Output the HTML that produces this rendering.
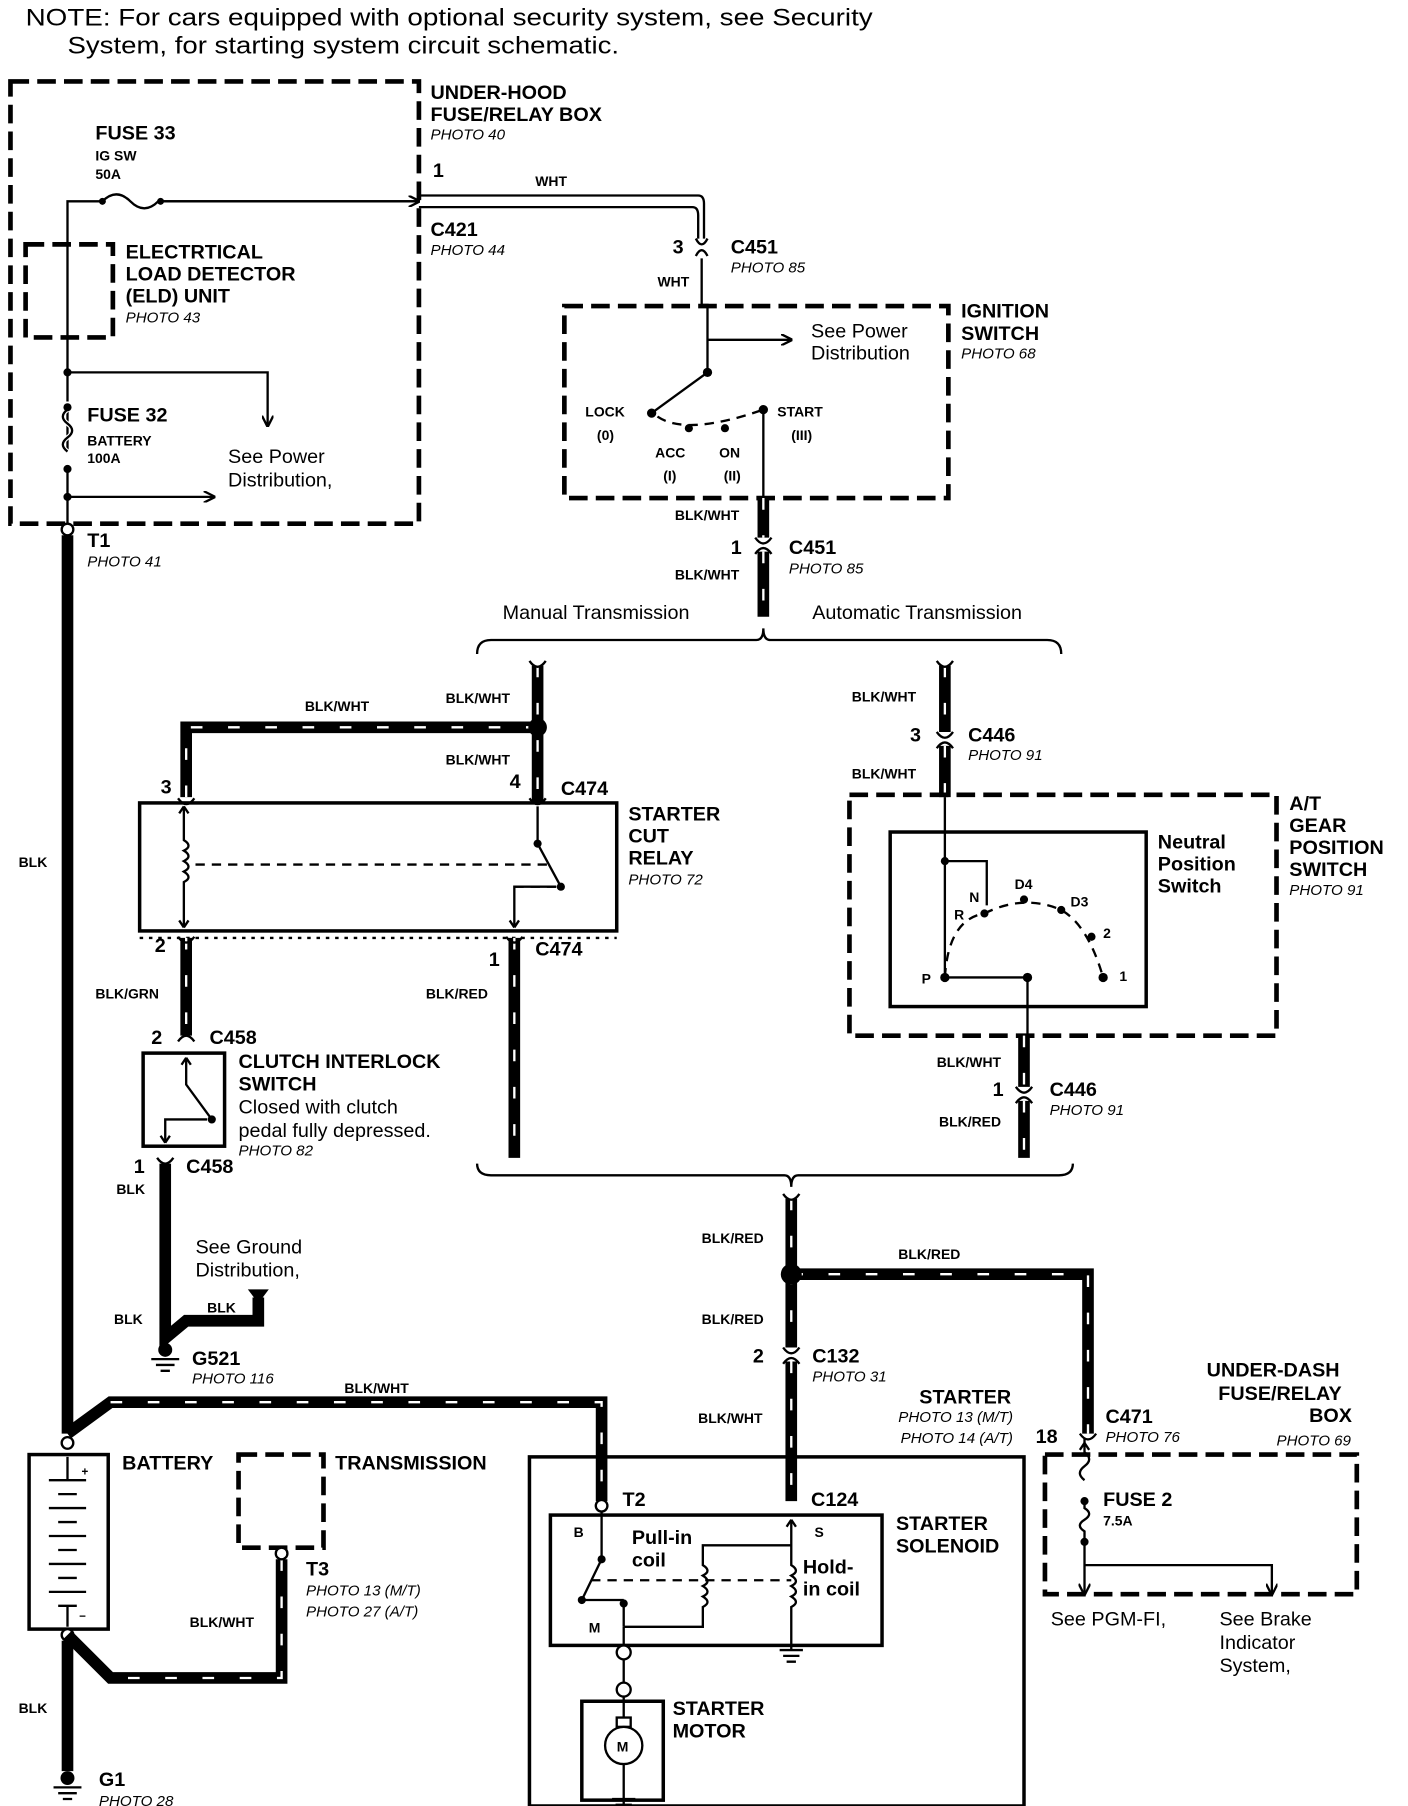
<!DOCTYPE html>
<html><head><meta charset="utf-8"><style>
html,body{margin:0;padding:0;background:#fff}
svg{display:block}
text{font-family:"Liberation Sans",Arial,sans-serif;fill:#000}
.b{font-weight:bold;font-size:17px}
.s{font-weight:bold;font-size:12px}
.i{font-style:italic;font-size:13px}
.n{font-size:17px}
.tw{stroke:#000;stroke-width:10;fill:none}
.td{stroke:#fff;stroke-width:2;fill:none;stroke-dasharray:10 22}
.th{stroke:#000;stroke-width:2;fill:none}
.dsh{stroke:#000;stroke-width:4;fill:none;stroke-dasharray:16 7}
.dl{stroke:#000;stroke-width:2;fill:none;stroke-dasharray:8 6}
</style></head><body>
<svg width="1408" height="1806" viewBox="0 0 1210 1552" xmlns="http://www.w3.org/2000/svg">
<defs><marker id="ar" markerWidth="10" markerHeight="10" refX="9" refY="5" orient="auto" markerUnits="userSpaceOnUse"><path d="M0,0 L10,5 L0,10" fill="none" stroke="#000" stroke-width="2"/></marker></defs>
<text x="22" y="22" class="n" style="font-size:21px" textLength="728" lengthAdjust="spacingAndGlyphs">NOTE: For cars equipped with optional security system, see Security</text>
<text x="58" y="46" class="n" style="font-size:21px" textLength="474" lengthAdjust="spacingAndGlyphs">System, for starting system circuit schematic.</text>

<!-- under-hood box -->
<rect x="9" y="70" width="351" height="380" class="dsh"/>
<text x="370" y="85" class="b">UNDER-HOOD</text><text x="370" y="104" class="b">FUSE/RELAY BOX</text><text x="370" y="120" class="i">PHOTO  40</text>
<text x="82" y="120" class="b">FUSE 33</text><text x="82" y="138" class="s">IG SW</text><text x="82" y="154" class="s">50A</text>
<path d="M58,455 V173 H88 M88,173 q12,-12 24,0 q12,12 24,0 H360" class="th" marker-end="url(#ar)"/>
<path d="M136,173 H358" class="th"/>
<circle cx="88" cy="173" r="3"/><circle cx="138" cy="173" r="3"/>
<path d="M360,168 H600 Q605,168 605,175 V205 M360,178 H595 Q600,178 600,185 V205" class="th"/>
<text x="372" y="152" class="b">1</text><text x="460" y="160" class="s">WHT</text>
<text x="370" y="203" class="b">C421</text><text x="370" y="219" class="i">PHOTO 44</text>
<path d="M598,205 q5,10 10,0 M598,220 q5,-10 10,0" class="th"/>
<text x="578" y="218" class="b">3</text><text x="628" y="218" class="b">C451</text><text x="628" y="234" class="i">PHOTO 85</text>
<text x="565" y="246" class="s">WHT</text>
<path d="M603,222 V262 H608 V320" class="th"/>
<path d="M608,292 H680" class="th" marker-end="url(#ar)"/>
<text x="697" y="290" class="n">See Power</text><text x="697" y="309" class="n">Distribution</text>
<rect x="485" y="263" width="330" height="165" class="dsh"/>
<text x="826" y="273" class="b">IGNITION</text><text x="826" y="292" class="b">SWITCH</text><text x="826" y="308" class="i">PHOTO 68</text>
<path d="M608,320 L560,355" class="th"/><circle cx="608" cy="320" r="4"/><circle cx="560" cy="355" r="4"/>
<circle cx="592" cy="368" r="3.5"/><circle cx="623" cy="368" r="3.5"/><circle cx="656" cy="352" r="4"/>
<path d="M565,358 Q590,375 656,352" class="dl"/>
<text x="503" y="358" class="s">LOCK</text><text x="513" y="378" class="s">(0)</text>
<text x="563" y="393" class="s">ACC</text><text x="570" y="413" class="s">(I)</text>
<text x="618" y="393" class="s">ON</text><text x="622" y="413" class="s">(II)</text>
<text x="668" y="358" class="s">START</text><text x="680" y="378" class="s">(III)</text>
<path d="M656,352 V428" class="th"/>
<path d="M656,428 V462 M656,474 V530" class="tw"/><path d="M656,428 V462 M656,474 V530" class="td"/>
<path d="M649,462 q7,10 14,0 M649,476 q7,-10 14,0" class="th"/>
<text x="580" y="447" class="s">BLK/WHT</text>
<text x="628" y="476" class="b">1</text><text x="678" y="476" class="b">C451</text><text x="678" y="493" class="i">PHOTO 85</text>
<text x="580" y="498" class="s">BLK/WHT</text>
<text x="432" y="532" class="n">Manual Transmission</text><text x="698" y="532" class="n">Automatic Transmission</text>
<path d="M410,562 Q410,550 422,550 H650 Q656,550 656,540 Q656,550 662,550 H900 Q912,550 912,562" class="th"/>

<!-- ELD -->
<rect x="22" y="210" width="75" height="80" class="dsh"/>
<text x="108" y="222" class="b">ELECTRTICAL</text><text x="108" y="241" class="b">LOAD DETECTOR</text><text x="108" y="260" class="b">(ELD) UNIT</text><text x="108" y="277" class="i">PHOTO 43</text>
<circle cx="58" cy="320" r="3.5"/>
<path d="M58,320 H230 V366" class="th" marker-end="url(#ar)"/>
<path d="M58,345 V352 q-8,6 0,12 q8,6 0,12 q-8,6 0,12 V400" stroke="#fff" stroke-width="4" fill="none"/>
<path d="M58,352 q-8,6 0,12 q8,6 0,12 q-8,6 0,12" class="th"/>
<circle cx="58" cy="350" r="3.5"/><circle cx="58" cy="403" r="3.5"/>
<text x="75" y="362" class="b">FUSE 32</text><text x="75" y="383" class="s">BATTERY</text><text x="75" y="398" class="s">100A</text>
<path d="M58,427 H184" class="th" marker-end="url(#ar)"/><circle cx="58" cy="427" r="3.5"/>
<text x="196" y="398" class="n">See Power</text><text x="196" y="418" class="n">Distribution,</text>
<path d="M58,460 V1232" class="tw"/>
<circle cx="58" cy="455" r="5" fill="#fff" stroke="#000" stroke-width="2"/>
<text x="75" y="470" class="b">T1</text><text x="75" y="487" class="i">PHOTO 41</text>
<text x="16" y="745" class="s">BLK</text>

<!-- manual -->
<path d="M462,572 V690" class="tw"/><path d="M462,572 V690" class="td"/>
<path d="M455,568 q7,10 14,0" class="th"/>
<path d="M462,625 H160 V685" class="tw"/><path d="M462,625 H160 V685" class="td"/>
<circle cx="462" cy="625" r="8"/>
<text x="383" y="604" class="s">BLK/WHT</text><text x="262" y="611" class="s">BLK/WHT</text><text x="383" y="657" class="s">BLK/WHT</text>
<text x="138" y="682" class="b">3</text><text x="438" y="677" class="b">4</text><text x="482" y="683" class="b">C474</text>
<rect x="120" y="690" width="410" height="110" stroke="#000" stroke-width="3" fill="#fff"/>
<path d="M153,686 q7,10 14,0 M455,686 q7,10 14,0" class="th"/>
<text x="540" y="705" class="b">STARTER</text><text x="540" y="724" class="b">CUT</text><text x="540" y="743" class="b">RELAY</text><text x="540" y="760" class="i">PHOTO 72</text>
<path d="M158,693 V722 q8,5 0,9 q8,5 0,9 q8,5 0,9 q8,5 0,9 V797" class="th"/>
<path d="M158,693 l-4,6 M158,693 l4,6 M158,797 l-4,-6 M158,797 l4,-6" class="th"/>
<path d="M168,743 H470" class="dl"/>
<path d="M462,693 V725 L482,762" class="th"/><circle cx="462" cy="725" r="3.5"/><circle cx="482" cy="762" r="3.5"/>
<path d="M442,797 V762 H478" class="th"/><path d="M442,762 H478" class="dl"/>
<path d="M442,797 l-4,-6 M442,797 l4,-6" class="th"/>
<path d="M120,806 H530" class="dl" style="stroke-dasharray:3 5"/>
<path d="M160,806 V890 M442,806 V995" class="tw"/><path d="M160,806 V890 M442,806 V995" class="td"/>
<path d="M153,805 q7,10 14,0 M435,805 q7,10 14,0" class="th"/>
<text x="133" y="818" class="b">2</text><text x="420" y="830" class="b">1</text><text x="460" y="821" class="b">C474</text>
<text x="82" y="858" class="s">BLK/GRN</text><text x="366" y="858" class="s">BLK/RED</text>
<path d="M153,895 q7,-10 14,0" class="th"/>
<text x="130" y="897" class="b">2</text><text x="180" y="897" class="b">C458</text>
<rect x="123" y="905" width="70" height="80" stroke="#000" stroke-width="3" fill="#fff"/>
<path d="M160,909 V932 L182,962" class="th"/><circle cx="182" cy="962" r="3.5"/>
<path d="M160,909 l-4,6 M160,909 l4,6" class="th"/>
<path d="M142,982 V962 H178" class="th"/>
<path d="M142,982 l-4,-6 M142,982 l4,-6" class="th"/>
<text x="205" y="918" class="b">CLUTCH INTERLOCK</text><text x="205" y="937" class="b">SWITCH</text>
<text x="205" y="957" class="n">Closed with clutch</text><text x="205" y="977" class="n">pedal fully depressed.</text><text x="205" y="993" class="i">PHOTO 82</text>
<path d="M135,995 q7,10 14,0" class="th"/>
<text x="115" y="1008" class="b">1</text><text x="160" y="1008" class="b">C458</text><text x="100" y="1026" class="s">BLK</text>
<path d="M142,1000 V1150 L160,1135 H222 V1115" class="tw"/>
<path d="M213,1108 H231 L222,1120 Z"/>
<text x="168" y="1077" class="n">See Ground</text><text x="168" y="1097" class="n">Distribution,</text>
<text x="178" y="1128" class="s">BLK</text><text x="98" y="1138" class="s">BLK</text>
<circle cx="142" cy="1160" r="6"/><path d="M130,1168 H154 M134,1173 H150 M138,1178 H146" class="th"/>
<text x="165" y="1173" class="b">G521</text><text x="165" y="1189" class="i">PHOTO 116</text>

<!-- automatic -->
<path d="M812,572 V629 M812,641 V685" class="tw"/><path d="M812,572 V629 M812,641 V685" class="td"/>
<path d="M805,568 q7,10 14,0 M805,629 q7,10 14,0 M805,643 q7,-10 14,0" class="th"/>
<text x="732" y="603" class="s">BLK/WHT</text><text x="782" y="637" class="b">3</text><text x="832" y="637" class="b">C446</text><text x="832" y="653" class="i">PHOTO  91</text><text x="732" y="669" class="s">BLK/WHT</text>
<rect x="730" y="683" width="367" height="207" class="dsh"/>
<text x="1108" y="696" class="b">A/T</text><text x="1108" y="715" class="b">GEAR</text><text x="1108" y="734" class="b">POSITION</text><text x="1108" y="753" class="b">SWITCH</text><text x="1108" y="769" class="i">PHOTO 91</text>
<rect x="765" y="715" width="220" height="150" stroke="#000" stroke-width="3" fill="#fff"/>
<text x="995" y="729" class="b">Neutral</text><text x="995" y="748" class="b">Position</text><text x="995" y="767" class="b">Switch</text>
<path d="M812,685 V840 M812,740 H848 V778 M812,840 H883 V890" class="th"/>
<circle cx="812" cy="740" r="3.5"/><circle cx="812" cy="840" r="4"/><circle cx="883" cy="840" r="4"/>
<path d="M812,840 Q815,790 846,785 Q880,768 912,782 Q935,795 948,840" class="dl"/>
<circle cx="846" cy="785" r="3.5"/><circle cx="880" cy="773" r="3.5"/><circle cx="912" cy="782" r="3.5"/><circle cx="938" cy="805" r="3.5"/><circle cx="948" cy="840" r="4"/>
<text x="833" y="775" class="s">N</text><text x="820" y="790" class="s">R</text><text x="872" y="764" class="s">D4</text><text x="920" y="779" class="s">D3</text><text x="948" y="806" class="s">2</text><text x="962" y="843" class="s">1</text><text x="792" y="845" class="s">P</text>
<path d="M880,890 V934 M880,946 V995" class="tw"/><path d="M880,890 V934 M880,946 V995" class="td"/>
<path d="M873,934 q7,10 14,0 M873,948 q7,-10 14,0" class="th"/>
<text x="805" y="917" class="s">BLK/WHT</text><text x="853" y="942" class="b">1</text><text x="902" y="942" class="b">C446</text><text x="902" y="958" class="i">PHOTO 91</text><text x="807" y="968" class="s">BLK/RED</text>
<path d="M410,1000 Q410,1010 422,1010 H674 Q680,1010 680,1020 Q680,1010 686,1010 H910 Q922,1010 922,1000" class="th"/>

<!-- starter feed -->
<path d="M680,1030 V1158 M680,1170 V1290" class="tw"/><path d="M680,1030 V1158 M680,1170 V1290" class="td"/>
<path d="M673,1026 q7,10 14,0 M673,1158 q7,10 14,0 M673,1172 q7,-10 14,0" class="th"/>
<path d="M680,1095 H935 V1232" class="tw"/><path d="M680,1095 H935 V1232" class="td"/>
<circle cx="680" cy="1095" r="9"/>
<text x="603" y="1068" class="s">BLK/RED</text><text x="772" y="1082" class="s">BLK/RED</text><text x="603" y="1138" class="s">BLK/RED</text>
<text x="647" y="1171" class="b">2</text><text x="698" y="1171" class="b">C132</text><text x="698" y="1187" class="i">PHOTO 31</text>
<text x="600" y="1223" class="s">BLK/WHT</text>
<text x="790" y="1206" class="b">STARTER</text><text x="772" y="1222" class="i">PHOTO 13 (M/T)</text><text x="774" y="1240" class="i">PHOTO 14 (A/T)</text>

<!-- battery feed -->
<path d="M58,1232 L95,1205 H517 V1290" class="tw"/><path d="M95,1205 H517 V1290" class="td"/>
<text x="296" y="1197" class="s">BLK/WHT</text>
<rect x="25" y="1250" width="68" height="150" stroke="#000" stroke-width="3" fill="#fff"/>
<circle cx="58" cy="1240" r="5" fill="#fff" stroke="#000" stroke-width="2"/>
<circle cx="58" cy="1405" r="5" fill="#fff" stroke="#000" stroke-width="2"/>
<path d="M58,1252 V1272 M42,1272 H74 M50,1284 H66 M42,1296 H74 M50,1308 H66 M42,1320 H74 M50,1332 H66 M42,1344 H74 M50,1356 H66 M42,1368 H74 M50,1380 H66 M58,1380 V1398" class="th"/>
<text x="70" y="1268" class="s" style="font-size:10px">+</text><text x="68" y="1392" class="s" style="font-size:10px">−</text>
<text x="105" y="1263" class="b">BATTERY</text><text x="288" y="1263" class="b">TRANSMISSION</text>
<rect x="205" y="1250" width="73" height="80" class="dsh"/>
<path d="M242,1340 V1442 H95 L58,1405" class="tw"/><path d="M242,1340 V1442 H95" class="td"/>
<circle cx="242" cy="1335" r="5" fill="#fff" stroke="#000" stroke-width="2"/>
<text x="263" y="1354" class="b">T3</text><text x="263" y="1371" class="i">PHOTO 13 (M/T)</text><text x="263" y="1389" class="i">PHOTO 27 (A/T)</text>
<text x="163" y="1398" class="s">BLK/WHT</text>
<path d="M58,1410 V1522" class="tw"/><text x="16" y="1472" class="s">BLK</text>
<circle cx="58" cy="1528" r="6"/><path d="M46,1536 H70 M50,1541 H66 M54,1546 H62" class="th"/>
<text x="85" y="1535" class="b">G1</text><text x="85" y="1552" class="i">PHOTO 28</text>

<!-- starter -->
<rect x="455" y="1252" width="425" height="300" stroke="#000" stroke-width="3" fill="none"/>
<text x="535" y="1294" class="b">T2</text><text x="697" y="1294" class="b">C124</text>
<rect x="473" y="1302" width="285" height="112" stroke="#000" stroke-width="3" fill="#fff"/>
<circle cx="517" cy="1294" r="5" fill="#fff" stroke="#000" stroke-width="2"/>
<text x="770" y="1315" class="b">STARTER</text><text x="770" y="1334" class="b">SOLENOID</text>
<text x="493" y="1321" class="s">B</text><text x="700" y="1321" class="s">S</text><text x="506" y="1403" class="s">M</text>
<text x="543" y="1327" class="b">Pull-in</text><text x="543" y="1346" class="b">coil</text>
<text x="690" y="1352" class="b">Hold-</text><text x="690" y="1371" class="b">in coil</text>
<path d="M517,1299 V1340 L500,1375" class="th"/><circle cx="517" cy="1340" r="3.5"/><circle cx="500" cy="1375" r="3.5"/>
<path d="M500,1375 L536,1375 M536,1375 V1398" class="th"/><circle cx="536" cy="1378" r="3.5"/>
<path d="M508,1358 H680" class="dl"/>
<path d="M680,1306 V1345 q8,5 0,9 q8,5 0,9 q8,5 0,9 q8,5 0,9 V1418 M670,1418 H690 M673,1423 H687 M676,1428 H684" class="th"/>
<path d="M680,1306 l-4,6 M680,1306 l4,6" class="th"/>
<path d="M680,1328 H604 V1345 q8,5 0,9 q8,5 0,9 q8,5 0,9 q8,5 0,9 V1398 H536" class="th"/>
<path d="M536,1398 V1413" class="th"/>
<circle cx="536" cy="1420" r="6" fill="#fff" stroke="#000" stroke-width="2"/>
<path d="M536,1426 V1446" class="th"/>
<circle cx="536" cy="1452" r="6" fill="#fff" stroke="#000" stroke-width="2"/>
<rect x="500" y="1462" width="70" height="85" stroke="#000" stroke-width="3" fill="#fff"/>
<path d="M536,1458 V1484 M536,1516 V1552 M526,1546 H546 M529,1551 H543" class="th"/>
<rect x="530" y="1476" width="12" height="8" fill="#fff" stroke="#000" stroke-width="2"/>
<circle cx="536" cy="1500" r="16" fill="#fff" stroke="#000" stroke-width="2"/>
<text x="530" y="1505" class="s">M</text>
<text x="578" y="1474" class="b">STARTER</text><text x="578" y="1493" class="b">MOTOR</text>

<!-- under-dash -->
<text x="1037" y="1183" class="b">UNDER-DASH</text><text x="1047" y="1203" class="b">FUSE/RELAY</text><text x="1125" y="1222" class="b">BOX</text><text x="1097" y="1242" class="i">PHOTO 69</text>
<text x="890" y="1240" class="b">18</text><text x="950" y="1223" class="b">C471</text><text x="950" y="1239" class="i">PHOTO 76</text>
<path d="M928,1232 q7,10 14,0" class="th"/>
<rect x="898" y="1250" width="268" height="120" class="dsh"/>
<path d="M932,1236 V1248 q8,6 0,12 q-8,6 0,12" class="th"/>
<path d="M932,1240 l-4,6 M932,1240 l4,6" class="th"/>
<path d="M932,1288 V1296 q8,5 0,10 q-8,5 0,10 V1370" class="th" marker-end="url(#ar)"/>
<circle cx="932" cy="1290" r="3.5"/><circle cx="932" cy="1325" r="3.5"/>
<path d="M932,1345 H1093 V1370" class="th" marker-end="url(#ar)"/>
<text x="948" y="1294" class="b">FUSE 2</text><text x="948" y="1311" class="s">7.5A</text>
<text x="903" y="1397" class="n">See PGM-FI,</text><text x="1048" y="1397" class="n">See Brake</text><text x="1048" y="1417" class="n">Indicator</text><text x="1048" y="1437" class="n">System,</text>
</svg>
</body></html>
